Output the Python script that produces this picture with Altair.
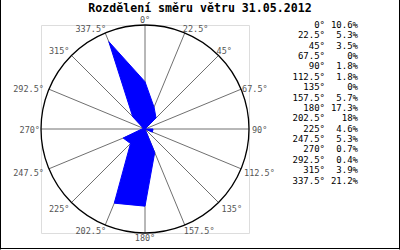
import altair as alt
import pandas as pd

# ---- data ----
angles = [0, 22.5, 45, 67.5, 90, 112.5, 135, 157.5, 180, 202.5, 225, 247.5, 270, 292.5, 315, 337.5]
angle_labels = ["0°", "22.5°", "45°", "67.5°", "90°", "112.5°", "135°", "157.5°",
                "180°", "202.5°", "225°", "247.5°", "270°", "292.5°", "315°", "337.5°"]
values = [10.6, 5.3, 3.5, 0, 1.8, 1.8, 0, 5.7, 17.3, 18, 4.6, 5.3, 0.7, 0.4, 3.9, 21.2]
value_labels = ["10.6%", "5.3%", "3.5%", "0%", "1.8%", "1.8%", "0%", "5.7%",
                "17.3%", "18%", "4.6%", "5.3%", "0.7%", "0.4%", "3.9%", "21.2%"]
R_MAX = 23.32  # radial scale maximum (1.1 x max value)
title_text = "Rozdělení směru větru 31.05.2012"

# label placement groups (align, baseline, dx, dy)
label_style = {
    0: ("center", "bottom", 0, 0), 22.5: ("left", "bottom", -2, 1), 45: ("left", "bottom", -2, 1),
    67.5: ("left", "middle", 1, 0), 90: ("left", "middle", 3, 1), 112.5: ("left", "top", 3, 0),
    135: ("left", "top", 3, 2), 157.5: ("left", "top", -1, 2), 180: ("center", "top", 0, 1),
    202.5: ("right", "top", 1, 2), 225: ("right", "top", -2, 2), 247.5: ("right", "top", -5, 0),
    270: ("right", "middle", -1, 1), 292.5: ("right", "middle", -5, 0), 315: ("right", "bottom", -2, 1),
    337.5: ("right", "bottom", 1, 1),
}

W = 208
FONT = "DejaVu Sans Mono"

df = pd.DataFrame({"a": angles, "v": values, "lab": angle_labels, "vlab": value_labels,
                   "row": list(range(len(angles)))})
poly = pd.concat([df, df.iloc[[0]].assign(row=len(angles))], ignore_index=True)

xs = alt.Scale(domain=[-R_MAX, R_MAX], nice=False, zero=False)
ys = alt.Scale(domain=[-R_MAX, R_MAX], nice=False, zero=False)

base = alt.Chart(df).transform_calculate(
    ex=f"{R_MAX}*sin(datum.a*PI/180)", ey=f"{R_MAX}*cos(datum.a*PI/180)", z="0"
)

spokes = base.mark_rule(color="#707070", strokeWidth=1).encode(
    x=alt.X("z:Q", scale=xs, axis=None), y=alt.Y("z:Q", scale=ys, axis=None),
    x2="ex:Q", y2="ey:Q",
)

circle = alt.Chart(pd.DataFrame({"c": [0]})).mark_point(
    shape="circle", filled=False, color="black", strokeWidth=1.3, size=W * W, opacity=1
).encode(x=alt.X("c:Q", scale=xs, axis=None), y=alt.Y("c:Q", scale=ys, axis=None))

polygon = alt.Chart(poly).transform_calculate(
    px="datum.v*sin(datum.a*PI/180)", py="datum.v*cos(datum.a*PI/180)"
).mark_line(color="#0000ff", fill="#0000ff", strokeWidth=1, interpolate="linear").encode(
    x=alt.X("px:Q", scale=xs, axis=None), y=alt.Y("py:Q", scale=ys, axis=None),
    order="row:Q",
)

label_layers = []
for ang, (al, bl, dx, dy) in label_style.items():
    label_layers.append(
        base.transform_filter(f"datum.a == {ang}").mark_text(
            font=FONT, fontSize=8.5, color="#555555", align=al, baseline=bl, dx=dx, dy=dy
        ).encode(
            x=alt.X("ex:Q", scale=xs, axis=None), y=alt.Y("ey:Q", scale=ys, axis=None),
            text="lab:N",
        )
    )

leg_y = alt.Y("row:O", scale=alt.Scale(range=[0, 155.5], padding=0), axis=None)
legend_deg = alt.Chart(df).mark_text(font=FONT, fontSize=9, color="black", align="right",
                                     baseline="middle").encode(
    x=alt.value(284), y=leg_y, text="lab:N")
legend_val = alt.Chart(df).mark_text(font=FONT, fontSize=9, color="black", align="right",
                                     baseline="middle").encode(
    x=alt.value(317), y=leg_y, text="vlab:N")

frame_df = pd.DataFrame({"k": [0]})
frame_l = alt.Chart(frame_df).mark_rule(color="black").encode(
    x=alt.value(-40.5), y=alt.value(-25), y2=alt.value(224.5))
frame_r = alt.Chart(frame_df).mark_rule(color="black").encode(
    x=alt.value(358.5), y=alt.value(-25), y2=alt.value(224.5))
frame_b = alt.Chart(frame_df).mark_rule(color="black").encode(
    x=alt.value(-41), x2=alt.value(359), y=alt.value(223.5))

chart = alt.layer(
    spokes, polygon, circle, *label_layers, legend_deg, legend_val, frame_l, frame_r, frame_b
).resolve_scale(y="independent").properties(
    width=W, height=W,
    title=alt.Title(title_text, font=FONT, fontSize=11.6, fontWeight="bold", color="black",
                    anchor="middle", frame="group", dx=55, offset=-15),
    autosize=alt.AutoSizeParams(type="none"),
    padding={"left": 41, "top": 25, "right": 151, "bottom": 17},
).configure_view(stroke=None).configure(background="white")

chart.save("out.html", embed_options={"renderer": "svg", "actions": False})
